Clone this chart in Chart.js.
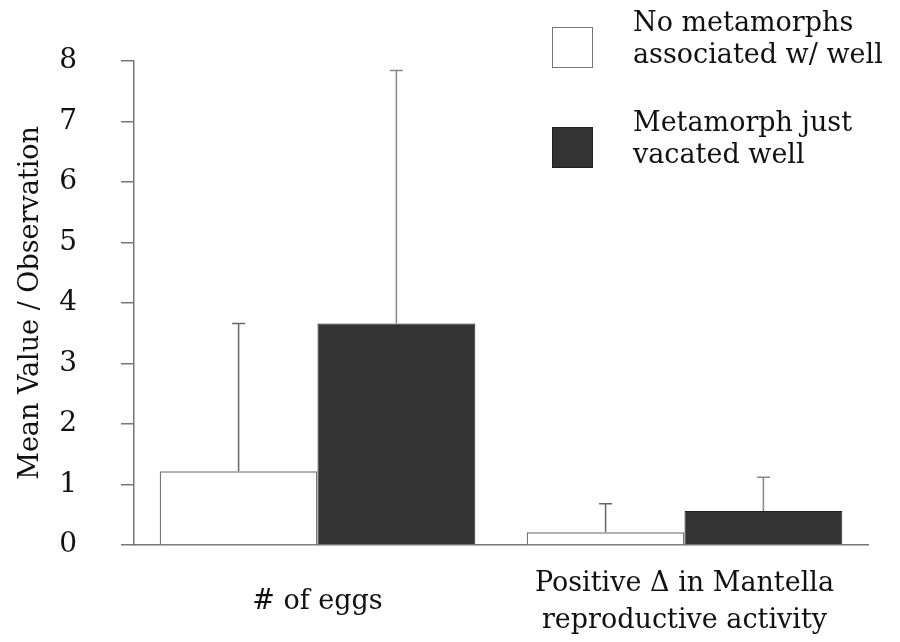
<!DOCTYPE html>
<html>
<head>
<meta charset="utf-8">
<script src="https://cdn.jsdelivr.net/npm/chart.js@4/dist/chart.umd.min.js"></script>
<style>
  html, body { margin: 0; padding: 0; background: #fff; }
  #wrap { position: relative; width: 900px; height: 642px; }
  canvas { position: absolute; left: 0; top: 0; }
  .leg { position: absolute; font-family: "DejaVu Serif", serif; font-size: 27px; line-height: 32px; color: #111; white-space: nowrap; }
  .box { position: absolute; width: 41px; height: 41px; box-sizing: border-box; }
</style>
</head>
<body>
<div id="wrap">
  <canvas id="c" width="900" height="642"></canvas>
  <div class="box" style="left:552px;top:27px;border:1px solid #777;background:#fff;"></div>
  <div class="leg" style="left:633px;top:6px;">No metamorphs<br>associated w/ well</div>
  <div class="box" style="left:552px;top:127px;background:#333;border:1px solid #222;"></div>
  <div class="leg" style="left:633px;top:106px;">Metamorph just<br>vacated well</div>
</div>
<script>
const categories = ["# of eggs", ["Positive \u0394 in Mantella", "reproductive activity"]];
const seriesNames = ["No metamorphs associated w/ well", "Metamorph just vacated well"];
const noMetaMeans = [1.22, 0.21];
const noMetaErr = [2.44, 0.47];
const vacatedMeans = [3.66, 0.56];
const vacatedErr = [4.18, 0.56];
const yTicks = [0, 1, 2, 3, 4, 5, 6, 7, 8];

const errors = [noMetaErr, vacatedErr];
const FONT = "DejaVu Serif";

const errorBars = {
  id: 'errorBars',
  afterDatasetsDraw(chart) {
    const ctx = chart.ctx;
    const ys = chart.scales.y;
    chart.data.datasets.forEach((ds, di) => {
      const meta = chart.getDatasetMeta(di);
      meta.data.forEach((bar, i) => {
        const top = ys.getPixelForValue(ds.data[i] + errors[di][i]);
        ctx.save();
        ctx.strokeStyle = di === 0 ? '#666' : '#888';
        ctx.lineWidth = 1.5;
        ctx.beginPath();
        ctx.moveTo(bar.x, bar.y);
        ctx.lineTo(bar.x, top);
        ctx.moveTo(bar.x - 6.5, top);
        ctx.lineTo(bar.x + 6.5, top);
        ctx.stroke();
        ctx.restore();
      });
    });
  }
};

new Chart(document.getElementById('c'), {
  type: 'bar',
  data: {
    labels: categories,
    datasets: [
      { label: seriesNames[0], data: noMetaMeans, backgroundColor: '#ffffff', borderColor: '#777', borderWidth: 1.5,
        barPercentage: 1.0, categoryPercentage: 0.86 },
      { label: seriesNames[1], data: vacatedMeans, backgroundColor: '#333333', borderColor: '#222', borderWidth: 1,
        barPercentage: 1.0, categoryPercentage: 0.86 }
    ]
  },
  options: {
    responsive: false,
    animation: false,
    devicePixelRatio: 1,
    layout: { padding: { left: 0, top: 58, right: 32, bottom: 0 } },
    plugins: { legend: { display: false }, tooltip: { enabled: false } },
    scales: {
      x: {
        grid: { display: false },
        border: { display: true, color: '#777', width: 1.5 },
        ticks: { color: '#111', font: { family: FONT, size: 27, lineHeight: 1.36 }, padding: 31, maxRotation: 0, autoSkip: false, crossAlign: 'center' },
        afterFit(s) { s.height = 97; }
      },
      y: {
        min: 0, max: 8,
        afterBuildTicks(s) { s.ticks = yTicks.map(v => ({ value: v })); },
        grid: { drawOnChartArea: false, tickLength: 13, color: '#777', lineWidth: 1.5 },
        border: { display: true, color: '#777', width: 1.5 },
        ticks: { color: '#111', font: { family: FONT, size: 28 }, padding: 44 },
        title: { display: true, text: 'Mean Value / Observation', color: '#111', font: { family: FONT, size: 27 }, padding: { top: 15, bottom: 0 } },
        afterFit(s) { s.width = 134; }
      }
    }
  },
  plugins: [errorBars]
});
</script>
</body>
</html>
